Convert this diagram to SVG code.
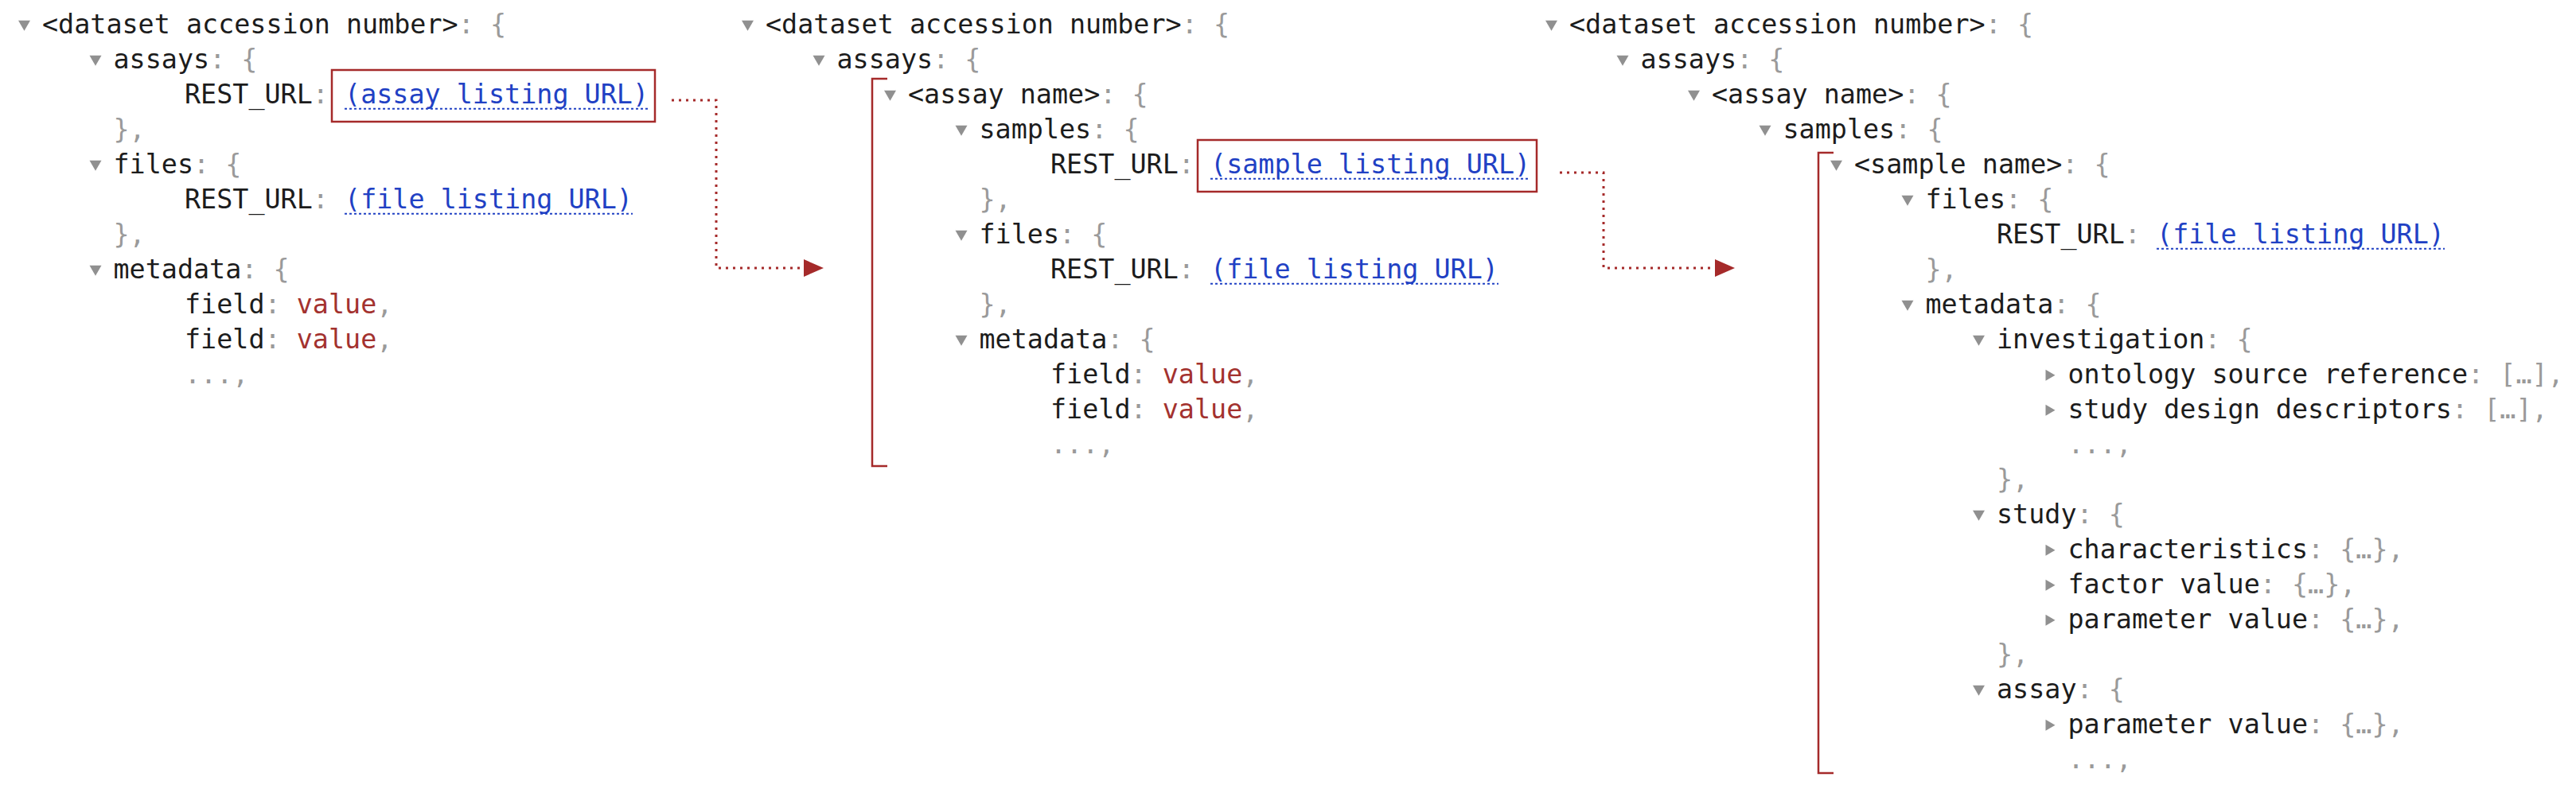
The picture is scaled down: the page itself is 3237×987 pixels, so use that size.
<svg xmlns="http://www.w3.org/2000/svg" xmlns:xlink="http://www.w3.org/1999/xlink" width="3237" height="987" viewBox="0 0 3237 987">
<style>
text{font-family:"DejaVu Sans Mono","Liberation Mono",monospace;font-size:33.4px;fill:#1c1c1c;white-space:pre}
.p{fill:#9a9a9a}
.v{fill:#a3322f}
.u{fill:#2141c4}
.ul{stroke:#2141c4;stroke-width:2;stroke-dasharray:3 3;fill:none}
.tri{fill:#909090}
.box{fill:none;stroke:#a52a2a;stroke-width:2.5}
.br{fill:none;stroke:#a52a2a;stroke-width:2.5}
.con{fill:none;stroke:#a52a2a;stroke-width:3;stroke-dasharray:3 6}
</style>
<defs>
<path id="dn" d="M0,0 H15 L7.5,13 Z"/>
<path id="rt" d="M0,0 L12,7 L0,14 Z"/>
<marker id="ah" viewBox="0 0 25 22" refX="0" refY="11" markerWidth="25" markerHeight="22" markerUnits="userSpaceOnUse" orient="auto"><path d="M0,0 L25,11 L0,22 Z" fill="#a52a2a"/></marker>
</defs>
<rect width="3237" height="987" fill="#fff"/>

<g id="panel1">
<use href="#dn" class="tri" x="23" y="25.7"/><text x="53" y="41.7">&lt;dataset accession number&gt;<tspan class="p">: {</tspan></text>
<use href="#dn" class="tri" x="112.5" y="69.7"/><text x="142.5" y="85.7">assays<tspan class="p">: {</tspan></text>
<text x="232" y="129.7">REST_URL<tspan class="p">: </tspan><tspan class="u">(assay listing URL)</tspan></text>
<line class="ul" x1="433" y1="136.7" x2="815" y2="136.7"/>
<rect class="box" x="417" y="88" width="406" height="65"/>
<text class="p" x="142.5" y="173.7">},</text>
<use href="#dn" class="tri" x="112.5" y="201.7"/><text x="142.5" y="217.7">files<tspan class="p">: {</tspan></text>
<text x="232" y="261.7">REST_URL<tspan class="p">: </tspan><tspan class="u">(file listing URL)</tspan></text>
<line class="ul" x1="433" y1="268.7" x2="795" y2="268.7"/>
<text class="p" x="142.5" y="305.7">},</text>
<use href="#dn" class="tri" x="112.5" y="333.7"/><text x="142.5" y="349.7">metadata<tspan class="p">: {</tspan></text>
<text x="232" y="393.7">field<tspan class="p">: </tspan><tspan class="v">value</tspan><tspan class="p">,</tspan></text>
<text x="232" y="437.7">field<tspan class="p">: </tspan><tspan class="v">value</tspan><tspan class="p">,</tspan></text>
<text class="p" x="232" y="481.7">...,</text>
</g>

<g id="panel2">
<use href="#dn" class="tri" x="932" y="25.7"/><text x="962" y="41.7">&lt;dataset accession number&gt;<tspan class="p">: {</tspan></text>
<use href="#dn" class="tri" x="1021.5" y="69.7"/><text x="1051.5" y="85.7">assays<tspan class="p">: {</tspan></text>
<path class="br" d="M1115,99 H1096 V586 H1115"/>
<use href="#dn" class="tri" x="1111" y="113.7"/><text x="1141" y="129.7">&lt;assay name&gt;<tspan class="p">: {</tspan></text>
<use href="#dn" class="tri" x="1200.5" y="157.7"/><text x="1230.5" y="173.7">samples<tspan class="p">: {</tspan></text>
<text x="1320" y="217.7">REST_URL<tspan class="p">: </tspan><tspan class="u">(sample listing URL)</tspan></text>
<line class="ul" x1="1521" y1="224.7" x2="1923" y2="224.7"/>
<rect class="box" x="1505" y="176" width="426" height="65"/>
<text class="p" x="1230.5" y="261.7">},</text>
<use href="#dn" class="tri" x="1200.5" y="289.7"/><text x="1230.5" y="305.7">files<tspan class="p">: {</tspan></text>
<text x="1320" y="349.7">REST_URL<tspan class="p">: </tspan><tspan class="u">(file listing URL)</tspan></text>
<line class="ul" x1="1521" y1="356.7" x2="1883" y2="356.7"/>
<text class="p" x="1230.5" y="393.7">},</text>
<use href="#dn" class="tri" x="1200.5" y="421.7"/><text x="1230.5" y="437.7">metadata<tspan class="p">: {</tspan></text>
<text x="1320" y="481.7">field<tspan class="p">: </tspan><tspan class="v">value</tspan><tspan class="p">,</tspan></text>
<text x="1320" y="525.7">field<tspan class="p">: </tspan><tspan class="v">value</tspan><tspan class="p">,</tspan></text>
<text class="p" x="1320" y="569.7">...,</text>
</g>

<g id="panel3">
<use href="#dn" class="tri" x="1942" y="25.7"/><text x="1972" y="41.7">&lt;dataset accession number&gt;<tspan class="p">: {</tspan></text>
<use href="#dn" class="tri" x="2031.5" y="69.7"/><text x="2061.5" y="85.7">assays<tspan class="p">: {</tspan></text>
<use href="#dn" class="tri" x="2121" y="113.7"/><text x="2151" y="129.7">&lt;assay name&gt;<tspan class="p">: {</tspan></text>
<use href="#dn" class="tri" x="2210.5" y="157.7"/><text x="2240.5" y="173.7">samples<tspan class="p">: {</tspan></text>
<path class="br" d="M2304,192 H2285 V972 H2304"/>
<use href="#dn" class="tri" x="2300" y="201.7"/><text x="2330" y="217.7">&lt;sample name&gt;<tspan class="p">: {</tspan></text>
<use href="#dn" class="tri" x="2389.5" y="245.7"/><text x="2419.5" y="261.7">files<tspan class="p">: {</tspan></text>
<text x="2509" y="305.7">REST_URL<tspan class="p">: </tspan><tspan class="u">(file listing URL)</tspan></text>
<line class="ul" x1="2710" y1="312.7" x2="3072" y2="312.7"/>
<text class="p" x="2419.5" y="349.7">},</text>
<use href="#dn" class="tri" x="2389.5" y="377.7"/><text x="2419.5" y="393.7">metadata<tspan class="p">: {</tspan></text>
<use href="#dn" class="tri" x="2479" y="421.7"/><text x="2509" y="437.7">investigation<tspan class="p">: {</tspan></text>
<use href="#rt" class="tri" x="2570.5" y="464.7"/><text x="2598.5" y="481.7">ontology source reference<tspan class="p">: […],</tspan></text>
<use href="#rt" class="tri" x="2570.5" y="508.7"/><text x="2598.5" y="525.7">study design descriptors<tspan class="p">: […],</tspan></text>
<text class="p" x="2598.5" y="569.7">...,</text>
<text class="p" x="2509" y="613.7">},</text>
<use href="#dn" class="tri" x="2479" y="641.7"/><text x="2509" y="657.7">study<tspan class="p">: {</tspan></text>
<use href="#rt" class="tri" x="2570.5" y="684.7"/><text x="2598.5" y="701.7">characteristics<tspan class="p">: {…},</tspan></text>
<use href="#rt" class="tri" x="2570.5" y="728.7"/><text x="2598.5" y="745.7">factor value<tspan class="p">: {…},</tspan></text>
<use href="#rt" class="tri" x="2570.5" y="772.7"/><text x="2598.5" y="789.7">parameter value<tspan class="p">: {…},</tspan></text>
<text class="p" x="2509" y="833.7">},</text>
<use href="#dn" class="tri" x="2479" y="861.7"/><text x="2509" y="877.7">assay<tspan class="p">: {</tspan></text>
<use href="#rt" class="tri" x="2570.5" y="904.7"/><text x="2598.5" y="921.7">parameter value<tspan class="p">: {…},</tspan></text>
<text class="p" x="2598.5" y="965.7">...,</text>
</g>

<g id="connectors">
<path class="con" d="M844,126 H900 V337 H1010" marker-end="url(#ah)"/>
<path class="con" d="M1960,217 H2015 V337 H2155" marker-end="url(#ah)"/>
</g>
</svg>
